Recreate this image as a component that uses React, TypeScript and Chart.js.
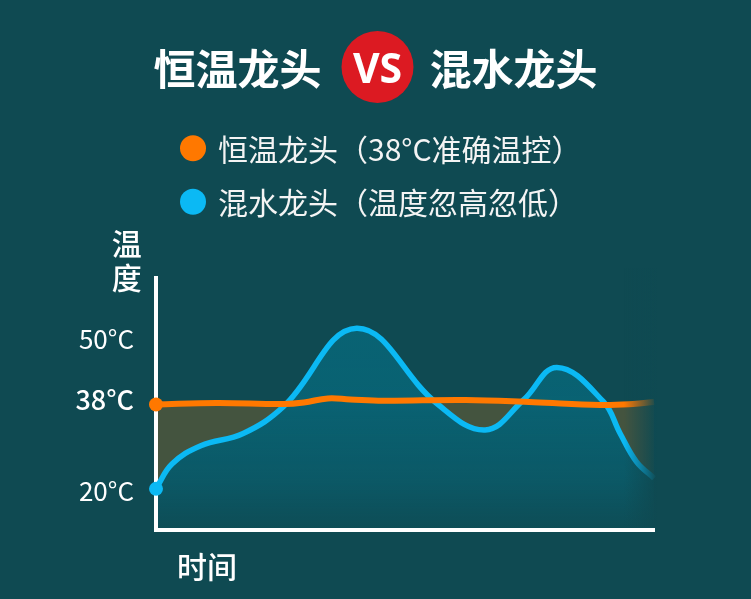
import React, { useEffect, useRef } from "react";
import { Chart, registerables } from "chart.js";

Chart.register(...registerables);

// ---- data ----
const titleLeft = "恒温龙头";
const titleVs = "VS";
const titleRight = "混水龙头";
const yAxisTitle = ["温", "度"];
const xAxisTitle = "时间";

const seriesLabels = ["恒温龙头（38°C准确温控）", "混水龙头（温度忽高忽低）"];

const yTickValues = [20, 38, 50];

// constant-temperature tap (orange)
const orangeTimes = [0, 12.2, 25.6, 29.7, 34.5, 39, 45.6, 62.2, 75.8, 89.2, 95.8, 100];
const orangeTemps = [37.1, 37.4, 37.2, 37.5, 38.3, 38.1, 37.85, 38.0, 37.55, 37.0, 37.2, 37.6];

// mixing tap (blue)
const blueTimes = [0, 3.2, 9, 17.5, 25.6, 40.3, 56.4, 66.1, 73.8, 80.5, 89.8, 93.2, 96.5, 100];
const blueTemps = [20.5, 25.4, 29.0, 31.4, 36.7, 52.1, 37.3, 32.1, 38.0, 44.4, 37.7, 31.4, 25.8, 22.6];

const BG = "#0f4a52";
const ORANGE = "#ff7800";
const BLUE = "#0bb9f4";
const CJK = '"Noto Sans CJK SC", "Noto Sans", sans-serif';

const decorPlugin = {
  id: "decor",
  afterDatasetsDraw(chart: any) {
    const { ctx, chartArea } = chart;
    // right-edge fade
    const x0 = chartArea.right - 30;
    const x1 = chartArea.right + 3;
    const g = ctx.createLinearGradient(x0, 0, x1, 0);
    g.addColorStop(0, "rgba(15,74,82,0)");
    g.addColorStop(1, "rgba(15,74,82,1)");
    ctx.save();
    ctx.fillStyle = g;
    ctx.fillRect(x0, chartArea.top - 10, x1 - x0 + 4, chartArea.bottom - 2.5 - (chartArea.top - 10));
    ctx.restore();
  },
  afterDraw(chart: any) {
    const { ctx } = chart;
    ctx.save();
    // title
    ctx.fillStyle = "#ffffff";
    ctx.textBaseline = "middle";
    ctx.textAlign = "center";
    ctx.font = `bold 42px ${CJK}`;
    ctx.fillText(titleLeft, 237.5, 69);
    ctx.fillText(titleRight, 513.5, 69);
    ctx.beginPath();
    ctx.arc(377.5, 67, 36, 0, Math.PI * 2);
    ctx.fillStyle = "#dc1a22";
    ctx.fill();
    ctx.fillStyle = "#ffffff";
    ctx.textBaseline = "alphabetic";
    ctx.font = `bold 41px "Noto Sans", sans-serif`;
    ctx.fillText(titleVs, 377.5, 82.5);

    // legend
    const colors = [ORANGE, BLUE];
    const rows = [148.3, 201.7];
    ctx.textAlign = "left";
    ctx.textBaseline = "middle";
    ctx.font = `30px ${CJK}`;
    chart.data.datasets.forEach((ds: any, i: number) => {
      ctx.beginPath();
      ctx.arc(193, rows[i], 13, 0, Math.PI * 2);
      ctx.fillStyle = colors[i];
      ctx.fill();
      ctx.fillStyle = "#f4f4f4";
      ctx.fillText(ds.label, 218, rows[i] + 1);
    });

    // axis titles
    ctx.fillStyle = "#ffffff";
    ctx.font = `500 30px ${CJK}`;
    ctx.textAlign = "center";
    ctx.fillText(yAxisTitle[0], 126.7, 244);
    ctx.fillText(yAxisTitle[1], 126.7, 278);
    ctx.textAlign = "left";
    ctx.fillText(xAxisTitle, 177, 567);
    ctx.restore();
  },
};

export default function App() {
  const ref = useRef<HTMLCanvasElement | null>(null);

  useEffect(() => {
    const canvas = ref.current;
    if (!canvas) return;
    const chart = new Chart(canvas, {
      type: "line",
      data: {
        datasets: [
          {
            label: seriesLabels[0],
            data: orangeTimes.map((t, i) => ({ x: t, y: orangeTemps[i] })),
            borderColor: ORANGE,
            borderWidth: 6,
            tension: 0.4,
            clip: false,
            pointRadius: (c: any) => (c.dataIndex === 0 ? 7 : 0),
            pointHoverRadius: 0,
            pointBackgroundColor: ORANGE,
            pointBorderWidth: 0,
            fill: { target: 1, above: "rgba(255,122,0,0.225)", below: "rgba(0,0,0,0)" },
          },
          {
            label: seriesLabels[1],
            data: blueTimes.map((t, i) => ({ x: t, y: blueTemps[i] })),
            borderColor: BLUE,
            borderWidth: 5.5,
            tension: 0.4,
            clip: false,
            pointRadius: (c: any) => (c.dataIndex === 0 ? 7 : 0),
            pointHoverRadius: 0,
            pointBackgroundColor: BLUE,
            pointBorderWidth: 0,
            fill: "start",
            backgroundColor: (c: any) => {
              const area = c.chart.chartArea;
              if (!area) return "rgba(9,99,116,0.8)";
              const g = c.chart.ctx.createLinearGradient(0, area.top, 0, area.bottom);
              g.addColorStop(0, "rgba(9,99,116,1)");
              g.addColorStop(0.49, "rgba(9,99,116,0.95)");
              g.addColorStop(0.8, "rgba(9,99,116,0.6)");
              g.addColorStop(1, "rgba(9,99,116,0.12)");
              return g;
            },
          },
        ],
      },
      options: {
        responsive: false,
        animation: false,
        events: [],
        layout: { padding: { top: 278, right: 97, bottom: 0, left: 0 } },
        plugins: {
          legend: { display: false },
          tooltip: { enabled: false },
          filler: { drawTime: "beforeDraw" },
        } as any,
        scales: {
          x: {
            type: "linear",
            min: 0,
            max: 100,
            grid: { display: false, drawTicks: false },
            ticks: { display: false },
            border: { color: "#ffffff", width: 4 },
            afterFit: (s: any) => {
              s.height = 69.5;
            },
          },
          y: {
            type: "linear",
            min: 12.5,
            max: 62,
            grid: { display: false, drawTicks: false },
            border: { color: "#ffffff", width: 4 },
            afterBuildTicks: (s: any) => {
              s.ticks = yTickValues.map((v) => ({ value: v }));
            },
            ticks: {
              color: "#ffffff",
              padding: 22,
              font: (c: any) =>
                c.tick && c.tick.value === 38
                  ? { family: CJK, size: 27, weight: "500" }
                  : { family: CJK, size: 26, weight: "normal" },
              callback: (v: any) => `${v}°C`,
            },
            afterFit: (s: any) => {
              s.width = 156;
            },
          },
        },
      },
      plugins: [decorPlugin],
    });
    return () => chart.destroy();
  }, []);

  return (
    <div style={{ position: "absolute", left: 0, top: 0, width: 751, height: 599, background: BG }}>
      <canvas ref={ref} width={751} height={599} style={{ display: "block", width: 751, height: 599 }} />
    </div>
  );
}
